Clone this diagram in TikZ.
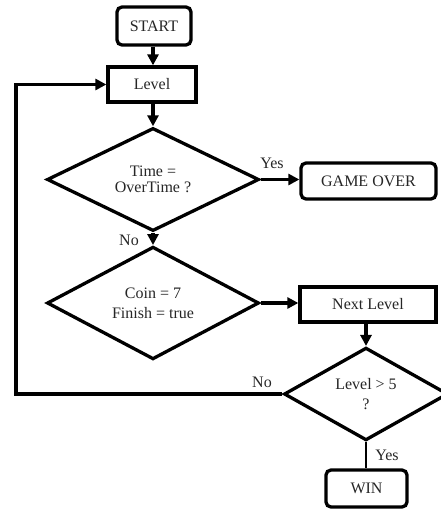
\documentclass[tikz,border=0pt]{standalone}
\usepackage{fontspec}
\setmainfont{Liberation Serif}
\usetikzlibrary{shapes.geometric,arrows.meta}
\begin{document}
\begin{tikzpicture}[x=1pt,y=-1pt,
  every node/.style={text=black!85, font=\fontsize{16}{16}\selectfont},
  boxr/.style={draw, line width=3.3pt, rounded corners=5pt, inner sep=0pt},
  boxs/.style={draw, line width=3.3pt, inner sep=0pt},
  dec/.style={draw, diamond, line width=3.3pt, inner sep=0pt, align=center},
  flow/.style={line width=3.3pt, -{Triangle[length=11pt,width=11pt]}},
  lbl/.style={inner sep=0pt}
]
\useasboundingbox (0,0) rectangle (441,509);
\node[boxr, minimum width=74pt, minimum height=38pt] (start) at (154,26) {START};
\node[boxs, minimum width=88pt, minimum height=35pt] (level) at (152,84.5) {Level};
\node[dec, minimum width=212pt, minimum height=94pt] (d1) at (153,179.5) {Time =\\OverTime ?};
\node[boxr, minimum width=135pt, minimum height=36pt] (over) at (368.5,181) {GAME OVER};
\node[dec, minimum width=212pt, minimum height=96pt, font=\fontsize{16}{20}\selectfont] (d2) at (153,303) {Coin = 7\\Finish = true};
\node[boxs, minimum width=136pt, minimum height=35pt] (next) at (368,304.5) {Next Level};
\node[dec, minimum width=164pt, minimum height=88pt, font=\fontsize{16}{20}\selectfont] (d3) at (366,394) {Level > 5\\?};
\node[boxr, minimum width=81pt, minimum height=37pt] (win) at (366.5,488.5) {WIN};
\coordinate (cl) at (16,394);
\coordinate (ct) at (16,84.5);
\draw[flow] (start.south -| 153,0) -- (level.north -| 153,0);
\draw[flow] (level.south -| 153,0) -- (d1.north);
\draw[flow] (d1.east) -- (d1.east -| over.west);
\draw[flow] (d1.south) -- (d2.north);
\draw[flow] (d2.east) -- (d2.east -| next.west);
\draw[flow] (next.south -| d3.north) -- (d3.north);
\draw[flow] (d3.west) -- (cl) -- (ct) -- (level.west);
\draw[line width=2.2pt] (d3.south) -- (win.north -| d3.south);
\node[lbl] (yes1) at (272,163) {Yes};
\node[lbl] (no1) at (129,240) {No};
\node[lbl] (no2) at (262,382) {No};
\node[lbl] (yes2) at (387,455) {Yes};
\end{tikzpicture}
\end{document}
